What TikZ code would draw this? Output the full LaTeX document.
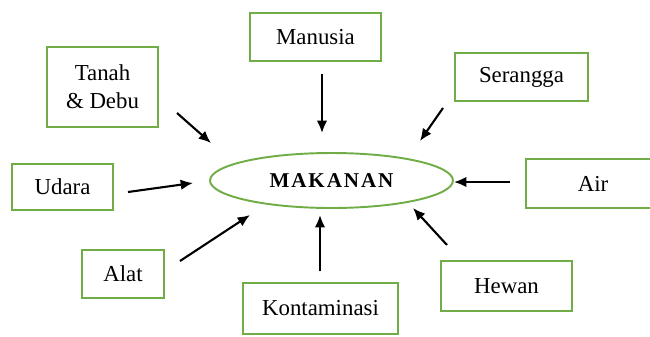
\documentclass[tikz,border=0pt]{standalone}
\usepackage{fontspec}
\setmainfont{Liberation Serif}
\newfontfamily\spacedfont[LetterSpace=9]{Liberation Serif}
\usepackage{tikz}
\usetikzlibrary{shapes.geometric,arrows.meta}
\definecolor{boxgreen}{RGB}{112,173,71}
\tikzset{>={Latex[length=7pt,width=6pt]}}
\tikzset{
  factor/.style={draw=boxgreen,line width=1.1pt,align=center,inner sep=0pt,
    font=\fontsize{13}{16}\selectfont},
  arr/.style={->,black,line width=1.2pt}
}

\begin{document}
\begin{tikzpicture}[x=0.02cm,y=-0.02cm]
    \clip (0,0) rectangle (650,336);
    % pusat
    \node[ellipse,draw=boxgreen,line width=1.1pt,minimum width=4.86cm,minimum height=1.1cm,
      font=\spacedfont\bfseries\fontsize{12}{14}\selectfont] (makanan) at (331.5,180.5) {MAKANAN};
    % sumber kontaminasi
    \node[factor,minimum width=2.22cm,minimum height=1.6cm] (tanah) at (102.5,87) {Tanah\\\& Debu};
    \node[factor,minimum width=2.62cm,minimum height=0.96cm] (manusia) at (315.5,37) {Manusia};
    \node[factor,minimum width=2.66cm,minimum height=0.96cm] (serangga) at (521.5,77) {Serangga};
    \node[factor,minimum width=2.02cm,minimum height=0.92cm] (udara) at (62.5,187) {Udara};
    \node[factor,minimum width=2.68cm,minimum height=0.98cm] (air) at (593,183.5) {Air};
    \node[factor,minimum width=1.64cm,minimum height=0.96cm] (alat) at (123,274) {Alat};
    \node[factor,minimum width=3.1cm,minimum height=1.02cm] (kontaminasi) at (320.5,308.5) {Kontaminasi};
    \node[factor,minimum width=2.62cm,minimum height=1.0cm] (hewan) at (506.5,286) {Hewan};
    % ujung panah
    \coordinate (tanah-out) at (177,113);       \coordinate (tanah-in) at (211,143);
    \coordinate (manusia-out) at (322,74);      \coordinate (manusia-in) at (322,133);
    \coordinate (serangga-out) at (443,108);    \coordinate (serangga-in) at (420,141);
    \coordinate (udara-out) at (128,192);       \coordinate (udara-in) at (193,183);
    \coordinate (air-out) at (510,182);         \coordinate (air-in) at (454,182);
    \coordinate (alat-out) at (180,261);        \coordinate (alat-in) at (250,215);
    \coordinate (kontaminasi-out) at (320,271); \coordinate (kontaminasi-in) at (320,215);
    \coordinate (hewan-out) at (447,245);       \coordinate (hewan-in) at (413,208);
    \foreach\src in {tanah,manusia,serangga,udara,air,alat,kontaminasi,hewan}{
     \draw[arr] (\src-out) -- (\src-in);}
  \end{tikzpicture}
\end{document}
